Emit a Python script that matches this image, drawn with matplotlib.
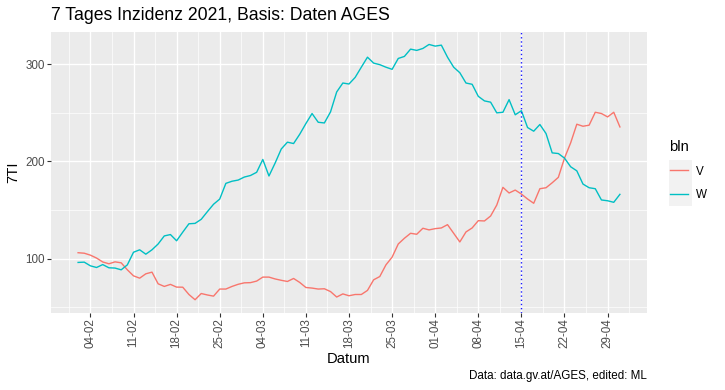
import numpy as np
import pandas as pd
import matplotlib
matplotlib.use('Agg')
from matplotlib import pyplot as plt
from matplotlib.patches import Rectangle

plt.rcParams['font.family'] = ['Liberation Sans', 'DejaVu Sans']

# daily 7 day incidence, 2021-02-02 .. 2021-05-01
dates = pd.date_range('2021-02-02', '2021-05-01', freq='D')

inz_v = [106, 105.5, 103.5, 100.5, 96.5, 94.6, 96.6, 95.6, 88.4, 82.2,
         79.8, 84.3, 86, 74, 71.3, 73.4, 70.6, 70.5, 63, 57.6,
         64, 62.5, 61.3, 68.6, 68.6, 71.3, 73.5, 75, 75.2, 76.8,
         80.9, 80.9, 79, 77.6, 76.4, 79.5, 75.4, 70.2, 69.6, 68.6,
         68.9, 66, 60.4, 63.6, 61.7, 63, 63, 67.2, 78.1, 81.5,
         93.5, 101.4, 115, 120.9, 126, 125, 131.2, 129.5, 130.8, 131.5,
         134.9, 126, 117.1, 127.4, 131.5, 139, 138.7, 143.8, 155.1, 173.3,
         167.5, 170.5, 166.4, 161.3, 156.9, 171.9, 172.9, 178, 183.6, 203.4,
         219.1, 238.3, 236.2, 237.3, 250.6, 249.3, 245.8, 250.6, 235.5]

inz_w = [96, 96.3, 92.5, 90.8, 93.8, 90.5, 90.2, 88.4, 93.5, 106.5,
         109, 104.5, 109, 115, 123.3, 124.7, 118.3, 127.2, 135.8, 136.2,
         140.4, 148.3, 155.9, 161.2, 177.4, 179.6, 180.8, 183.9, 185.5, 188.8,
         202, 185, 198.3, 212.8, 219.8, 218.4, 228, 239, 249.3, 240.3,
         239.6, 251, 271.5, 280.7, 279.7, 286.5, 297, 307.3, 301.2, 299.6,
         297, 294.8, 306, 308.1, 315.6, 314.3, 316.3, 320.4, 318.7, 319.7,
         307.3, 297, 291.3, 280.7, 279.4, 267, 262.3, 261, 250, 250.6,
         263.6, 248, 252.2, 234.9, 231.1, 238, 228.7, 208.8, 208.1, 203.4,
         194.5, 190.3, 176.7, 172.9, 171.9, 160.3, 159.5, 157.9, 166.1]

bln = ['V', 'W']
farben = ['#F8766D', '#00BFC4']
stichtag = pd.Timestamp('2021-04-15')
x_breaks = pd.date_range('2021-02-04', '2021-04-29', freq='7D')
y_breaks = [100, 200, 300]

W, H = 725, 390
fig = plt.figure(figsize=(W / 100, H / 100), dpi=100)
ax = fig.add_axes([51 / W, 1 - 312.5 / H, (647 - 51) / W, (312.5 - 31.7) / H])
ax.set_facecolor('#EBEBEB')

for name, werte, col in zip(bln, [inz_v, inz_w], farben):
    ax.plot(dates, werte, color=col, linewidth=1.0, label=name, zorder=3)
ax.axvline(stichtag, color='#1a1aff', linestyle=(0, (1, 2)), linewidth=1.0, zorder=4)

# ggplot like expansion of 5 %
x0, x1 = matplotlib.dates.date2num(dates[0]), matplotlib.dates.date2num(dates[-1])
ax.set_xlim(x0 - 0.05 * (x1 - x0), x1 + 0.05 * (x1 - x0))
alle = np.concatenate([inz_v, inz_w])
ymin, ymax = alle.min(), alle.max()
ax.set_ylim(ymin - 0.05 * (ymax - ymin), ymax + 0.05 * (ymax - ymin))

# grid
xb = matplotlib.dates.date2num(x_breaks)
minor_x = np.concatenate([[xb[0] - 3.5], xb + 3.5])
for v in minor_x:
    ax.axvline(v, color='white', linewidth=0.5, zorder=1)
for v in xb:
    ax.axvline(v, color='white', linewidth=1.0, zorder=1)
for v in [50, 150, 250]:
    ax.axhline(v, color='white', linewidth=0.5, zorder=1)
for v in y_breaks:
    ax.axhline(v, color='white', linewidth=1.0, zorder=1)

ax.set_xticks(x_breaks)
ax.set_xticklabels([d.strftime('%d-%m') for d in x_breaks], rotation=90)
ax.set_yticks(y_breaks)
ax.tick_params(length=2.6, width=0.8, color='#333333', labelcolor='#4D4D4D',
               labelsize=8.4, pad=1.6)
for s in ax.spines.values():
    s.set_visible(False)

ax.set_xlabel('Datum', fontsize=10.6, labelpad=3)
ax.set_ylabel('7TI', fontsize=10.6, labelpad=4)

fig.text(51 / W, 1 - 19.5 / H, '7 Tages Inzidenz 2021, Basis: Daten AGES',
         fontsize=12.7, va='baseline', ha='left')
fig.text(647 / W, 1 - 376 / H, 'Data: data.gv.at/AGES, edited: ML',
         fontsize=8.4, va='center', ha='right')

# legend
fig.patches.append(Rectangle((669 / W, 1 - 206 / H), 23 / W, 46 / H,
                             transform=fig.transFigure, facecolor='#F2F2F2',
                             edgecolor='none', zorder=-1))
leg = ax.legend(loc='upper left', bbox_to_anchor=(659 / W, 1 - 130 / H),
                bbox_transform=fig.transFigure, frameon=False, title='bln',
                fontsize=8.4, title_fontsize=10.6, handlelength=1.6,
                handletextpad=0.7, labelspacing=0.95, alignment='left')

fig.savefig('out.png', dpi=100)
